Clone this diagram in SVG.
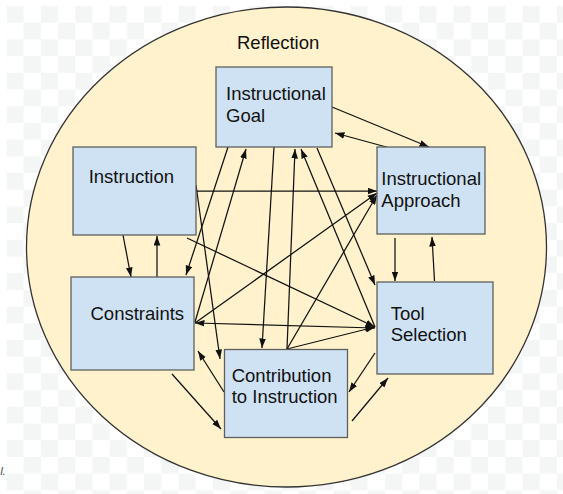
<svg xmlns="http://www.w3.org/2000/svg" width="563" height="494" viewBox="0 0 563 494">
  <style>
    .box { fill: #cfe2f3; stroke: #5f5f5f; stroke-width: 1.3; }
    .lbl { font-family: "Liberation Sans", Arial, sans-serif; font-size: 18.5px; fill: #111; }
    .cn line { stroke: #111; stroke-width: 1.25; marker-end: url(#ah); }
    .cn line.both { marker-start: url(#ahs); }
  </style>
  <defs>
    <pattern id="checker" patternUnits="userSpaceOnUse" x="6.5" y="6" width="34.4" height="33.4">
      <rect width="34.4" height="33.4" fill="#ffffff"/>
      <rect width="17.2" height="16.7" fill="#f4f6f6"/>
      <rect x="17.2" y="16.7" width="17.2" height="16.7" fill="#f4f6f6"/>
    </pattern>
    <marker id="ah" viewBox="0 0 10 7" refX="10" refY="3.5" markerUnits="userSpaceOnUse" markerWidth="9.5" markerHeight="7" orient="auto">
      <path d="M0,0 L10,3.5 L0,7 Z" fill="#111"/>
    </marker>
    <marker id="ahs" viewBox="0 0 10 7" refX="0" refY="3.5" markerUnits="userSpaceOnUse" markerWidth="9.5" markerHeight="7" orient="auto">
      <path d="M10,0 L0,3.5 L10,7 Z" fill="#111"/>
    </marker>
  </defs>

  <!-- page background -->
  <rect width="563" height="494" fill="#ffffff"/>
  <rect x="6.5" y="6" width="556.5" height="488" fill="url(#checker)"/>
  <text x="0.5" y="475" font-family="Liberation Sans, Arial, sans-serif" font-size="10" font-style="italic" fill="#333">l.</text>

  <!-- reflection circle -->
  <g id="reflection">
    <ellipse cx="286.5" cy="247" rx="260" ry="240" fill="#fff2cc" stroke="#333" stroke-width="1.3"/>
    <text class="lbl" x="237" y="49">Reflection</text>
  </g>

  <!-- connectors -->
  <g id="connectors" class="cn">
    <line x1="332" y1="107" x2="429" y2="147"/>
    <line x1="390" y1="148" x2="335" y2="133"/>
    <line x1="196" y1="191" x2="377" y2="191"/>
    <line x1="123" y1="235" x2="131" y2="277"/>
    <line x1="157" y1="277" x2="157" y2="236"/>
    <line x1="228" y1="147" x2="186" y2="275"/>
    <line x1="195" y1="322" x2="246" y2="149"/>
    <line x1="274" y1="147" x2="262" y2="348"/>
    <line x1="287" y1="349" x2="295" y2="149"/>
    <line x1="317" y1="148" x2="375" y2="285"/>
    <line x1="375" y1="327" x2="301" y2="149"/>
    <line x1="195" y1="323" x2="377" y2="193"/>
    <line x1="287" y1="349" x2="377" y2="195"/>
    <line class="both" x1="195" y1="323" x2="375" y2="328"/>
    <line x1="187" y1="238" x2="375" y2="327"/>
    <line x1="287" y1="349" x2="375" y2="327"/>
    <line x1="395" y1="238" x2="395" y2="281"/>
    <line x1="434.5" y1="281" x2="432" y2="237"/>
    <line x1="224" y1="392" x2="198" y2="351"/>
    <line x1="172" y1="374" x2="221" y2="429"/>
    <line x1="196" y1="185" x2="220" y2="359"/>
    <line x1="375" y1="353" x2="349" y2="392"/>
    <line x1="352" y1="421" x2="388" y2="378"/>
  </g>

  <!-- nodes -->
  <g id="instructional-goal">
    <rect class="box" x="216" y="67" width="116" height="80"/>
    <text class="lbl" x="226" y="100">Instructional</text>
    <text class="lbl" x="226" y="121.7">Goal</text>
  </g>
  <g id="instruction">
    <rect class="box" x="73" y="147" width="123" height="88"/>
    <text class="lbl" x="88.7" y="182.7">Instruction</text>
  </g>
  <g id="instructional-approach">
    <rect class="box" x="377" y="147" width="108" height="87"/>
    <text class="lbl" x="381.3" y="185">Instructional</text>
    <text class="lbl" x="381.3" y="207.3">Approach</text>
  </g>
  <g id="constraints">
    <rect class="box" x="71" y="277" width="123" height="93"/>
    <text class="lbl" x="90.5" y="320">Constraints</text>
  </g>
  <g id="tool-selection">
    <rect class="box" x="377" y="282" width="116" height="92"/>
    <text class="lbl" x="390.7" y="320">Tool</text>
    <text class="lbl" x="390.7" y="341.3">Selection</text>
  </g>
  <g id="contribution">
    <rect class="box" x="224.5" y="349.5" width="123" height="88"/>
    <text class="lbl" x="231.7" y="381.7">Contribution</text>
    <text class="lbl" x="231.7" y="403.3">to Instruction</text>
  </g>
</svg>
